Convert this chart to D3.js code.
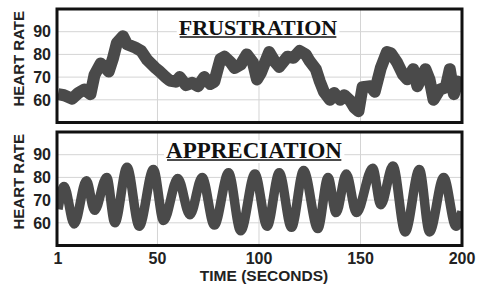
<!DOCTYPE html>
<html>
<head>
<meta charset="utf-8">
<script src="https://cdn.jsdelivr.net/npm/d3@7"></script>
<style>
  body { margin: 0; background: #fff; }
  svg { display: block; }
</style>
</head>
<body>
<div id="chart"></div>
<script>
// seconds sampled along the traces
const frustTime = [1, 4, 8, 11, 14, 17, 19, 22, 24, 26, 28, 30, 33, 35, 39, 42, 45, 49, 51, 54, 56, 59, 61, 64, 67, 70, 73, 76, 78, 81, 83, 86, 88, 91, 94, 97, 99, 101, 105, 108, 110, 114, 117, 120, 123, 125, 128, 130, 132, 135, 137, 140, 142, 145, 147, 149, 151, 155, 157, 160, 163, 165, 168, 171, 173, 176, 178, 182, 184, 186, 189, 192, 194, 196, 198, 200];
const frustRate = [62.5, 62, 60.5, 63, 64.5, 62.5, 71, 76, 74.5, 72.5, 78, 85, 88, 84.5, 83, 81.5, 77.5, 74, 72.5, 70, 68.5, 68, 70, 66.5, 67.5, 66, 70, 67, 68, 78, 79, 76.5, 74, 75.5, 80, 76.5, 69, 72, 81, 76.5, 74.5, 79, 78.5, 81.5, 80, 77, 73.5, 68, 63.5, 60, 63, 60, 62, 59.5, 56.5, 55, 65.5, 66, 63.5, 74, 81, 80.5, 76.5, 71, 69, 73.5, 66, 73.5, 69, 60, 64.5, 65.5, 73.5, 62.5, 68, 67];

const apprTime = [1, 4, 9, 15, 19, 25, 29, 35, 41, 48, 53, 60, 66, 72, 78, 85, 91, 98, 104, 110, 116, 122, 129, 134, 138, 143, 148, 156, 160, 166, 172, 179, 184, 191, 197, 200];
const apprRate = [66, 76, 59.5, 78.5, 65.5, 80, 60, 84.5, 58.5, 83.5, 61, 79.5, 63.5, 80, 59, 82, 56.5, 81.5, 58.5, 82, 58, 83, 57.5, 80, 64.5, 81.5, 64.5, 84, 68, 85, 56, 83.5, 56, 80, 58.5, 65];

const yTicks = [60, 70, 80, 90];
const xTicks = [1, 50, 100, 150, 200];

const panels = [
  { title: "FRUSTRATION", time: frustTime, rate: frustRate, top: 9, bottom: 122.5, curve: d3.curveLinear, width: 12, cx: 258, size: 22 },
  { title: "APPRECIATION", time: apprTime, rate: apprRate, top: 132, bottom: 245.5, curve: d3.curveMonotoneX, width: 9.5, cx: 254, size: 23 }
];

const W = 479, H = 284;
const left = 58, right = 462;

const svg = d3.select("#chart")
  .append("svg")
    .attr("width", W)
    .attr("height", H);

const x = d3.scaleLinear()
  .domain([1, 200])
  .range([left, right]);

const sans = "'Liberation Sans', Arial, sans-serif";
const serif = "'Liberation Serif', 'Times New Roman', serif";

panels.forEach((p, i) => {
  const y = d3.scaleLinear()
    .domain([50, 100])
    .range([p.bottom, p.top]);

  const g = svg.append("g").attr("class", "panel");

  g.append("clipPath")
    .attr("id", "clip" + i)
    .append("rect")
      .attr("x", left - 1)
      .attr("y", p.top)
      .attr("width", right - left + 1)
      .attr("height", p.bottom - p.top);

  // faint grid
  g.selectAll("line.hgrid")
    .data(yTicks)
    .join("line")
      .attr("class", "hgrid")
      .attr("x1", left).attr("x2", right)
      .attr("y1", d => y(d)).attr("y2", d => y(d))
      .attr("stroke", "#d4d4d4")
      .attr("stroke-width", 1);

  g.selectAll("line.vgrid")
    .data(xTicks.slice(1, 4))
    .join("line")
      .attr("class", "vgrid")
      .attr("x1", d => x(d)).attr("x2", d => x(d))
      .attr("y1", p.top).attr("y2", p.bottom)
      .attr("stroke", "#d4d4d4")
      .attr("stroke-width", 1);

  // title with white backing and underline
  const t = g.append("text")
    .text(p.title)
    .attr("x", p.cx)
    .attr("y", p.top + 26)
    .attr("text-anchor", "middle")
    .style("font-family", serif)
    .style("font-weight", "bold")
    .style("font-size", p.size + "px")
    .attr("fill", "#111");
  const bb = t.node().getBBox();
  g.insert("rect", "text")
    .attr("x", bb.x - 2).attr("y", bb.y + 2)
    .attr("width", bb.width + 4).attr("height", bb.height - 2)
    .attr("fill", "#fff");
  g.append("line")
    .attr("x1", bb.x + 1).attr("x2", bb.x + bb.width - 1)
    .attr("y1", p.top + 28).attr("y2", p.top + 28)
    .attr("stroke", "#111")
    .attr("stroke-width", 1.5);

  const pts = p.time.map((d, k) => [d, p.rate[k]]);
  const line = d3.line()
    .x(d => x(d[0]))
    .y(d => y(d[1]))
    .curve(p.curve);

  g.append("path")
    .datum(pts)
    .attr("clip-path", `url(#clip${i})`)
    .attr("d", line)
    .attr("fill", "none")
    .attr("stroke", "#4a4a4a")
    .attr("stroke-width", p.width)
    .attr("stroke-linejoin", "round")
    .attr("stroke-linecap", "butt");

  // frame
  g.append("rect")
    .attr("x", left - 1)
    .attr("y", p.top)
    .attr("width", right - left + 1)
    .attr("height", p.bottom - p.top)
    .attr("fill", "none")
    .attr("stroke", "#111")
    .attr("stroke-width", 3);

  // y tick labels
  g.selectAll("text.ytick")
    .data(yTicks)
    .join("text")
      .attr("class", "ytick")
      .text(d => d)
      .attr("x", 51)
      .attr("y", d => y(d))
      .attr("dy", "0.36em")
      .attr("text-anchor", "end")
      .style("font-family", sans)
      .style("font-weight", "bold")
      .style("font-size", "16px")
      .attr("fill", "#222");

  g.append("text")
    .text("HEART RATE")
    .attr("transform", `translate(24, ${(p.top + p.bottom) / 2 - 7}) rotate(-90)`)
    .attr("text-anchor", "middle")
    .style("font-family", sans)
    .style("font-weight", "bold")
    .style("font-size", "15px")
    .attr("fill", "#222");
});

// x axis labels under the bottom panel
svg.selectAll("text.xtick")
  .data(xTicks)
  .join("text")
    .attr("class", "xtick")
    .text(d => d)
    .attr("x", d => x(d))
    .attr("y", 264)
    .attr("text-anchor", "middle")
    .style("font-family", sans)
    .style("font-weight", "bold")
    .style("font-size", "16px")
    .attr("fill", "#222");

svg.append("text")
  .text("TIME (SECONDS)")
  .attr("x", 264)
  .attr("y", 281)
  .attr("text-anchor", "middle")
  .style("font-family", sans)
  .style("font-weight", "bold")
  .style("font-size", "15.5px")
  .attr("fill", "#222");
</script>
</body>
</html>
